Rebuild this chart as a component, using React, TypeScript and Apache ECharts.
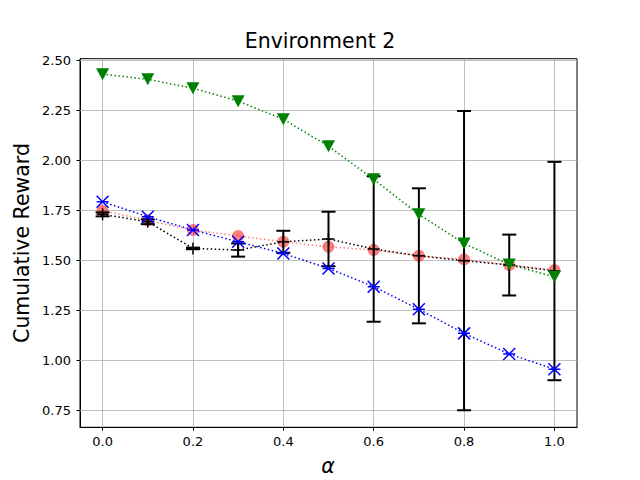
import React, { useEffect, useRef } from "react";
import * as echarts from "echarts";

const alphas = [0.0, 0.1, 0.2, 0.3, 0.4, 0.5, 0.6, 0.7, 0.8, 0.9, 1.0];
const greenVals = [2.43, 2.404, 2.36, 2.295, 2.205, 2.07, 1.905, 1.73, 1.585, 1.48, 1.418];
const blueVals = [1.793, 1.718, 1.652, 1.593, 1.535, 1.46, 1.369, 1.256, 1.136, 1.033, 0.957];
const redVals = [1.748, 1.7, 1.652, 1.622, 1.593, 1.568, 1.552, 1.523, 1.505, 1.477, 1.452];
const blackMeans = [1.73, 1.693, 1.56, 1.552, 1.593, 1.607, 1.557, 1.523, 1.499, 1.477, 1.447];
const blackErr = [0.01, 0.012, 0.004, 0.033, 0.055, 0.136, 0.363, 0.337, 0.747, 0.152, 0.545];
const xTicks = [0.0, 0.2, 0.4, 0.6, 0.8, 1.0];
const yTicks = [0.75, 1.0, 1.25, 1.5, 1.75, 2.0, 2.25, 2.5];

const FONT = "DejaVu Sans";

export default function App() {
  const ref = useRef<HTMLDivElement>(null);
  useEffect(() => {
    if (!ref.current) return;
    const chart = echarts.init(ref.current, null, { renderer: "svg" });
    const pairs = (ys: number[]) => alphas.map((a, i) => [a, ys[i]]);
    const dotted = (color: string) => ({ color, width: 1.5, type: [1.5, 2.5] as any, cap: "butt" as any });
    const option: any = {
      animation: false,
      backgroundColor: "#fff",
      grid: { left: 80, right: 63, top: 58.7, bottom: 52.7, show: true, borderColor: "#000", borderWidth: 1, containLabel: false },
      xAxis: {
        type: "value",
        min: -0.05,
        max: 1.05,
        splitLine: { show: false },
        axisLine: { show: true, onZero: false, lineStyle: { color: "#000", width: 1 } },
        axisTick: { show: true, length: 3.5, customValues: xTicks, lineStyle: { color: "#000" } },
        axisLabel: { customValues: xTicks, formatter: (v: number) => v.toFixed(1), color: "#000", fontFamily: FONT, fontSize: 13, margin: 8 },
      },
      yAxis: {
        type: "value",
        min: 0.667,
        max: 2.507,
        splitLine: { show: false },
        axisLine: { show: true, onZero: false, lineStyle: { color: "#000", width: 1 } },
        axisTick: { show: true, length: 3.5, customValues: yTicks, lineStyle: { color: "#000" } },
        axisLabel: { customValues: yTicks, formatter: (v: number) => v.toFixed(2), color: "#000", fontFamily: FONT, fontSize: 13, margin: 9 },
      },
      graphic: [
        { type: "text", left: "center", x: 0, top: 30, style: { text: "Environment 2", fontFamily: FONT, fontSize: 20.5, fill: "#000" } },
        { type: "text", x: 328, y: 466, style: { text: "α", fontFamily: FONT, fontStyle: "italic", fontSize: 20.5, fill: "#000", align: "center", verticalAlign: "middle" } },
        { type: "text", x: 22, y: 243, rotation: Math.PI / 2, style: { text: "Cumulative Reward", fontFamily: FONT, fontSize: 20.5, fill: "#000", align: "center", verticalAlign: "middle" } },
      ],
      series: [
        {
          type: "line",
          data: [],
          z: 1,
          silent: true,
          markLine: {
            z: 1,
            silent: true,
            symbol: "none",
            label: { show: false },
            lineStyle: { color: "#b0b0b0", type: "solid", width: 0.8 },
            data: [...yTicks.map((v) => ({ yAxis: v })), ...xTicks.map((v) => ({ xAxis: v }))],
          },
        },
        {
          type: "line",
          data: pairs(redVals),
          z: 10,
          symbol: "circle",
          symbolSize: 12,
          itemStyle: { color: "rgba(255,0,0,0.5)" },
          lineStyle: dotted("rgba(255,0,0,0.5)"),
        },
        {
          type: "line",
          data: pairs(blackMeans),
          z: 11,
          symbol: "path://M5,0L5,10M0,5L10,5",
          symbolSize: 12,
          itemStyle: { color: "none", borderColor: "#000", borderWidth: 1.5 },
          lineStyle: dotted("#000"),
        },
        {
          type: "custom",
          z: 12,
          silent: true,
          data: alphas.map((a, i) => [a, blackMeans[i] - blackErr[i], blackMeans[i] + blackErr[i]]),
          encode: { x: 0, y: [1, 2] },
          renderItem: (params: any, api: any) => {
            const x = api.value(0);
            const lo = api.coord([x, api.value(1)]);
            const hi = api.coord([x, api.value(2)]);
            const st = { stroke: "#000", lineWidth: 2, opacity: 1 };
            return {
              type: "group",
              children: [
                { type: "line", shape: { x1: lo[0], y1: lo[1], x2: hi[0], y2: hi[1] }, style: st },
                { type: "line", shape: { x1: lo[0] - 7, y1: lo[1], x2: lo[0] + 7, y2: lo[1] }, style: st },
                { type: "line", shape: { x1: hi[0] - 7, y1: hi[1], x2: hi[0] + 7, y2: hi[1] }, style: st },
              ],
            };
          },
        },
        {
          type: "line",
          data: pairs(blueVals),
          z: 13,
          symbol: "path://M0,0L10,10M10,0L0,10M0,5L10,5",
          symbolSize: 12,
          itemStyle: { color: "none", borderColor: "#0000ff", borderWidth: 1.5 },
          lineStyle: dotted("#0000ff"),
        },
        {
          type: "line",
          data: pairs(greenVals),
          z: 14,
          symbol: "triangle",
          symbolRotate: 180,
          symbolSize: [13, 12],
          itemStyle: { color: "#008000" },
          lineStyle: dotted("#008000"),
        },
      ],
    };
    chart.setOption(option);
    return () => chart.dispose();
  }, []);
  return <div ref={ref} style={{ position: "fixed", left: 0, top: 0, width: 640, height: 480 }} />;
}
